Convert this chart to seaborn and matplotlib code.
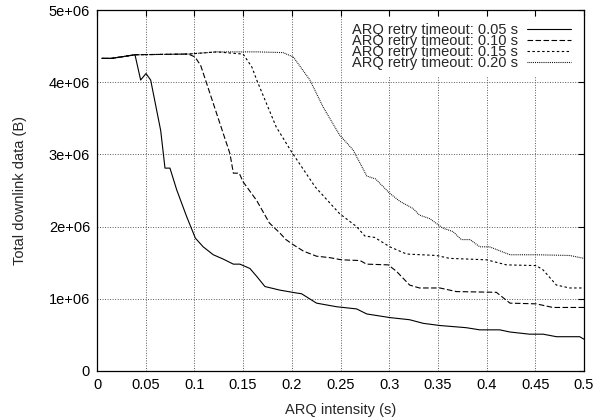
import numpy as np
import pandas as pd
import seaborn as sns
import matplotlib
matplotlib.use("Agg")
import matplotlib.pyplot as plt

#%% Data
x_005 = [0.005, 0.015, 0.039, 0.0448, 0.0503, 0.0551, 0.0654, 0.0698, 0.0749, 0.0818,
         0.092, 0.101, 0.109, 0.1194, 0.1296, 0.14, 0.1467, 0.157, 0.164, 0.1724,
         0.1878, 0.205, 0.21, 0.2254, 0.246, 0.2665, 0.277, 0.3006, 0.321, 0.335,
         0.352, 0.379, 0.393, 0.4135, 0.424, 0.444, 0.458, 0.4717, 0.4956, 0.5]
y_005 = [4.33, 4.33, 4.38, 4.03, 4.12, 4.03, 3.33, 2.81, 2.81, 2.51,
         2.14, 1.84, 1.72, 1.61, 1.55, 1.48, 1.48, 1.42, 1.31, 1.17,
         1.12, 1.08, 1.07, 0.94, 0.89, 0.86, 0.79, 0.74, 0.71, 0.66,
         0.63, 0.60, 0.57, 0.57, 0.54, 0.51, 0.51, 0.475, 0.475, 0.44]

x_010 = [0.005, 0.015, 0.039, 0.0937, 0.1006, 0.1065, 0.1365, 0.140, 0.146, 0.150,
         0.164, 0.177, 0.1878, 0.194, 0.2014, 0.212, 0.2254, 0.239, 0.251, 0.270,
         0.2767, 0.299, 0.3075, 0.321, 0.331, 0.352, 0.369, 0.410, 0.424, 0.451,
         0.468, 0.5]
y_010 = [4.33, 4.33, 4.38, 4.39, 4.35, 4.23, 3.01, 2.74, 2.74, 2.62,
         2.36, 2.05, 1.91, 1.82, 1.75, 1.66, 1.59, 1.57, 1.54, 1.53,
         1.48, 1.47, 1.38, 1.19, 1.15, 1.15, 1.10, 1.09, 0.94, 0.93,
         0.88, 0.88]

x_015 = [0.005, 0.015, 0.039, 0.0937, 0.123, 0.140, 0.150, 0.159, 0.164, 0.184,
         0.200, 0.224, 0.249, 0.2665, 0.275, 0.285, 0.3006, 0.3178, 0.3485, 0.362,
         0.400, 0.4204, 0.451, 0.458, 0.4717, 0.4853, 0.5]
y_015 = [4.33, 4.33, 4.38, 4.39, 4.42, 4.40, 4.39, 4.21, 4.03, 3.38,
         3.03, 2.55, 2.18, 2.00, 1.87, 1.85, 1.72, 1.62, 1.60, 1.56,
         1.54, 1.47, 1.46, 1.40, 1.19, 1.15, 1.15]

x_020 = [0.005, 0.015, 0.039, 0.0937, 0.123, 0.164, 0.191, 0.2015, 0.2186, 0.232,
         0.249, 0.263, 0.277, 0.286, 0.3006, 0.311, 0.3245, 0.331, 0.3417, 0.355,
         0.3656, 0.374, 0.383, 0.393, 0.403, 0.424, 0.451, 0.4853, 0.5]
y_020 = [4.33, 4.33, 4.38, 4.39, 4.42, 4.42, 4.41, 4.35, 4.03, 3.66,
         3.27, 3.06, 2.70, 2.66, 2.46, 2.35, 2.25, 2.16, 2.11, 1.98,
         1.93, 1.82, 1.82, 1.72, 1.72, 1.61, 1.61, 1.60, 1.56]

series_labels = ["ARQ retry timeout: 0.05 s", "ARQ retry timeout: 0.10 s",
                 "ARQ retry timeout: 0.15 s", "ARQ retry timeout: 0.20 s"]
x_ticks = [0, 0.05, 0.1, 0.15, 0.2, 0.25, 0.3, 0.35, 0.4, 0.45, 0.5]
x_ticklabels = ["0", "0.05", "0.1", "0.15", "0.2", "0.25", "0.3", "0.35", "0.4", "0.45", "0.5"]
y_ticks = [0, 1e6, 2e6, 3e6, 4e6, 5e6]
y_ticklabels = ["0", "1e+06", "2e+06", "3e+06", "4e+06", "5e+06"]

#%% Build a long table
frames = []
for lab, xs, ys in zip(series_labels, [x_005, x_010, x_015, x_020], [y_005, y_010, y_015, y_020]):
    frames.append(pd.DataFrame({"x": xs, "y": np.array(ys) * 1e6, "serie": lab}))
data = pd.concat(frames, ignore_index=True)

#%% Plot
sns.set_style("white")
plt.rcParams["font.family"] = ["Liberation Sans", "DejaVu Sans"]
plt.rcParams["font.size"] = 10

fig = plt.figure(figsize=(6.06, 4.18), dpi=100)
ax = fig.add_axes([97 / 606, 1 - 371 / 418, (584 - 97) / 606, (371 - 10) / 418])

dash_styles = ["-", (0, (5, 2.2)), (0, (2.2, 2.2)), (0, (0.8, 0.9))]
for lab, ls in zip(series_labels, dash_styles):
    sub = data[data["serie"] == lab]
    sns.lineplot(data=sub, x="x", y="y", ax=ax, color="black", lw=0.8,
                 linestyle=ls, label=lab, estimator=None, sort=False)

ax.set_xlim(0, 0.5)
ax.set_ylim(0, 5e6)
ax.set_xticks(x_ticks)
ax.set_xticklabels(x_ticklabels)
ax.set_yticks(y_ticks)
ax.set_yticklabels(y_ticklabels)
ax.grid(True, color="0.35", lw=0.7, linestyle=(0, (1, 1.6)))
ax.tick_params(direction="in", length=4.5, width=0.8, top=True, right=True,
               labelsize=10.5, pad=5, colors="black")
for sp in ax.spines.values():
    sp.set_color("black")
    sp.set_linewidth(0.9)

ax.set_xlabel("ARQ intensity (s)", fontsize=10.5, labelpad=8)
ax.set_ylabel("Total downlink data (B)", fontsize=10.5, labelpad=16)

leg = ax.legend(loc="upper right", markerfirst=False, frameon=True, fancybox=False,
                handlelength=3.0, handletextpad=0.6, labelspacing=-0.2,
                borderpad=0.4, borderaxespad=0.5, fontsize=10.5)
leg.get_frame().set_edgecolor("none")
leg.get_frame().set_facecolor("white")
leg.get_frame().set_alpha(1)

fig.savefig("out.png", dpi=100)
